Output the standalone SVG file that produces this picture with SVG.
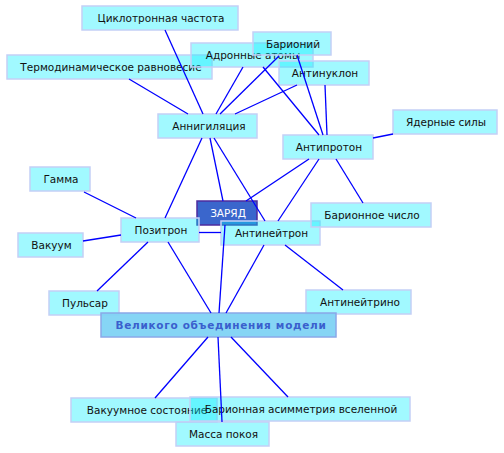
<svg xmlns="http://www.w3.org/2000/svg" width="504" height="453" viewBox="0 0 504 453">
<style>
.n rect{fill:#00eeff;fill-opacity:0.37;stroke:#c4cff6;stroke-width:1.5}
.n text{font-family:"DejaVu Sans",sans-serif;font-size:10.5px;fill:#111;text-anchor:middle}
#zaryad rect{fill:#3a66cc;fill-opacity:1;stroke:#4e2c9e;stroke-width:1.5}
#zaryad text{fill:#fff}
#gum rect{fill:#7fd3f4;fill-opacity:0.95;stroke:#8aa8e8}
#gum text{fill:#3a5fcd;font-weight:bold;letter-spacing:0.7px}
#edges line{stroke:#0000ff;stroke-width:1.3}
</style>
<rect width="504" height="453" fill="#fff"/>
<g id="nodes">
<g class="n" id="cyclo"><rect x="82" y="6" width="156" height="24"/><text x="161" y="22">Циклотронная частота</text></g>
<g class="n" id="thermo"><rect x="7" y="55" width="205" height="24"/><text x="111" y="71">Термодинамическое равновесие</text></g>
<g class="n" id="hadron"><rect x="191" y="43" width="122" height="24"/><text x="253" y="59">Адронные атомы</text></g>
<g class="n" id="barion"><rect x="253" y="32" width="78" height="23"/><text x="293" y="48">Барионий</text></g>
<g class="n" id="antinucl"><rect x="279" y="61" width="90" height="24"/><text x="325" y="77">Антинуклон</text></g>
<g class="n" id="annih"><rect x="158" y="114" width="99" height="24"/><text x="209" y="130">Аннигиляция</text></g>
<g class="n" id="nuclear"><rect x="393" y="110" width="104" height="24"/><text x="446" y="126">Ядерные силы</text></g>
<g class="n" id="antiproton"><rect x="283" y="135" width="90" height="24"/><text x="329" y="151">Антипротон</text></g>
<g class="n" id="gamma"><rect x="30" y="167" width="60" height="24"/><text x="61" y="183">Гамма</text></g>
<g class="n" id="zaryad"><rect x="197" y="201" width="60" height="24"/><text x="228" y="217">ЗАРЯД</text></g>
<g class="n" id="positron"><rect x="121" y="218" width="78" height="24"/><text x="161" y="234">Позитрон</text></g>
<g class="n" id="antineutron"><rect x="221" y="221" width="99" height="24"/><text x="271.5" y="237">Антинейтрон</text></g>
<g class="n" id="barnum"><rect x="311" y="203" width="120" height="24"/><text x="372" y="219">Барионное число</text></g>
<g class="n" id="vacuum"><rect x="18" y="233" width="65" height="24"/><text x="51.5" y="249">Вакуум</text></g>
<g class="n" id="pulsar"><rect x="49" y="291" width="70" height="24"/><text x="85" y="307">Пульсар</text></g>
<g class="n" id="antineutrino"><rect x="306" y="290" width="105" height="24"/><text x="360" y="306">Антинейтрино</text></g>
<g class="n" id="gum"><rect x="101" y="313" width="235" height="24"/><text x="221" y="329">Великого объединения модели</text></g>
<g class="n" id="vacstate"><rect x="71" y="398" width="146" height="24"/><text x="147" y="414">Вакуумное состояние</text></g>
<g class="n" id="asym"><rect x="190" y="397" width="220" height="24"/><text x="301" y="413">Барионная асимметрия вселенной</text></g>
<g class="n" id="mass"><rect x="176" y="422" width="93" height="24"/><text x="223.5" y="438">Масса покоя</text></g>
</g>
<g id="edges">
<line x1="165" y1="30" x2="203" y2="114"/>
<line x1="129" y1="79" x2="188" y2="114"/>
<line x1="243" y1="67" x2="216" y2="114"/>
<line x1="279" y1="56" x2="220" y2="114"/>
<line x1="297" y1="85" x2="235" y2="114"/>
<line x1="263" y1="67" x2="319" y2="135"/>
<line x1="297" y1="55" x2="323" y2="135"/>
<line x1="325" y1="85" x2="327" y2="135"/>
<line x1="393" y1="134" x2="373" y2="138"/>
<line x1="309" y1="159" x2="246" y2="201"/>
<line x1="319" y1="159" x2="278" y2="221"/>
<line x1="336" y1="159" x2="363" y2="203"/>
<line x1="202" y1="138" x2="165" y2="218"/>
<line x1="210" y1="138" x2="223" y2="201"/>
<line x1="214" y1="138" x2="265" y2="221"/>
<line x1="84" y1="192" x2="136" y2="218"/>
<line x1="83" y1="241" x2="121" y2="235"/>
<line x1="97" y1="291" x2="148" y2="242"/>
<line x1="199" y1="232.5" x2="221" y2="232.5"/>
<line x1="168" y1="242" x2="211" y2="313"/>
<line x1="225" y1="225" x2="219" y2="313"/>
<line x1="264" y1="245" x2="226" y2="313"/>
<line x1="285" y1="245" x2="343" y2="290"/>
<line x1="208" y1="337" x2="155" y2="398"/>
<line x1="218" y1="337" x2="222" y2="422"/>
<line x1="231" y1="337" x2="288" y2="397"/>
</g>
</svg>
